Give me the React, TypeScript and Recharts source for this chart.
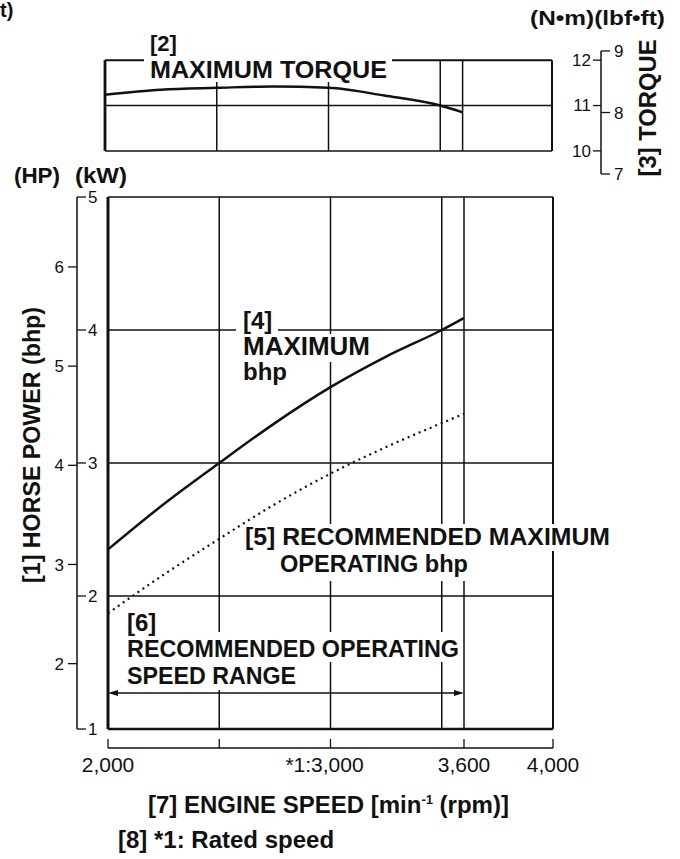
import React from 'react'
import { LineChart, Line, XAxis, YAxis, ReferenceLine } from 'recharts'

// engine speed samples (rpm) and curve values
const speedRpm = [2000, 2250, 2500, 2750, 3000, 3250, 3500, 3600]
const maxTorqueNm = [11.24, 11.35, 11.39, 11.42, 11.39, 11.22, 11.0, 10.85]
const maxBhpKw = [2.35, 2.69, 3.0, 3.3, 3.57, 3.8, 4.0, 4.09]
const recBhpKw = [1.87, 2.16, 2.43, 2.69, 2.92, 3.12, 3.3, 3.37]

const rpmTicks = [2000, 2500, 3000, 3600, 4000]
const rpmTickLabels = ['2,000', '', '*1:3,000', '3,600', '4,000']
const gridRpm = [2500, 3000, 3500, 3600]
const kwTicks = [1, 2, 3, 4, 5]
const kwGrid = [2, 3, 4, 5]
const hpTicks = [2, 3, 4, 5, 6]
const nmTicks = [10, 11, 12]
const nmGrid = [10, 11, 12]
const lbfTicks = [7, 8, 9]
const rangeRpm = [2000, 3600]
const rangeKw = 1.27

const KW_PER_HP = 0.7457
const NM_PER_LBF = 1.3558

const torqueData = speedRpm.map((r, i) => ({ rpm: r, nm: maxTorqueNm[i] }))
const powerData = speedRpm.map((r, i) => ({ rpm: r, max: maxBhpKw[i], rec: recBhpKw[i] }))

const ink = '#111'
const font = 'Liberation Sans, Arial, Helvetica, sans-serif'

// N·m ticks sit left of the shared torque scale line
const NmTick = (props: any) => {
  const { x, y, payload } = props
  return (
    <g>
      <line x1={x + 41} x2={x + 49} y1={y} y2={y} stroke={ink} strokeWidth={1.3} />
      <text x={x + 39} y={y} dy="0.35em" textAnchor="end" fontSize={17} fill={ink}>{payload.value}</text>
    </g>
  )
}

// kW ticks sit right of the shared power scale line
const KwTick = (props: any) => {
  const { x, y, payload } = props
  return (
    <g>
      <line x1={x - 31} x2={x - 22} y1={y} y2={y} stroke={ink} strokeWidth={1.3} />
      <text x={x - 20} y={y} dy="0.35em" textAnchor="start" fontSize={17} fill={ink}>{payload.value}</text>
    </g>
  )
}

const RpmTick = (props: any) => {
  const { x, y, payload } = props
  const label = rpmTickLabels[rpmTicks.indexOf(payload.value)]
  return (
    <g>
      <line x1={x} x2={x} y1={y} y2={y - 9} stroke={ink} strokeWidth={1.3} />
      <text x={payload.value === 3000 ? x - 6 : x} y={y + 24} textAnchor="middle" fontSize={21} fill={ink}>{label}</text>
    </g>
  )
}

const RangeArrow = (p: any) => {
  const { x1, y1, x2, y2 } = p
  return (
    <g>
      <line x1={x1 + 5} y1={y1} x2={x2 - 5} y2={y2} stroke={ink} strokeWidth={1.5} />
      <polygon points={`${x1},${y1} ${x1 + 10},${y1 - 3} ${x1 + 10},${y1 + 3}`} fill={ink} />
      <polygon points={`${x2},${y2} ${x2 - 10},${y2 - 3} ${x2 - 10},${y2 + 3}`} fill={ink} />
    </g>
  )
}

const T = ({ x, y, size = 24, w, children, ...rest }: any) => (
  <text x={x} y={y} fontSize={size} fontWeight="bold" fill={ink} fontFamily={font}
    textLength={w} lengthAdjust={w ? 'spacingAndGlyphs' : undefined} {...rest}>{children}</text>
)

const App = () => {
  return (
    <div style={{ position: 'absolute', left: 0, top: 0, width: 680, height: 859, background: '#fff', fontFamily: font }}>
      {/* torque box */}
      <div style={{ position: 'absolute', left: 0, top: 0 }}>
        <LineChart width={680} height={200} data={torqueData} margin={{ top: 51, right: 39, bottom: 26, left: 105 }}>
          <XAxis dataKey="rpm" type="number" domain={[2000, 4000]} hide />
          <YAxis yAxisId="t1" orientation="right" type="number" width={49}
            domain={[7 * NM_PER_LBF, 9 * NM_PER_LBF]} ticks={nmTicks} allowDataOverflow
            axisLine={false} tickLine={false} tickSize={0} tickMargin={0} tick={NmTick} />
          <YAxis yAxisId="t2" orientation="right" type="number" width={40}
            domain={[7, 9]} ticks={lbfTicks} allowDataOverflow
            axisLine={{ stroke: ink, strokeWidth: 1.5 }} tickLine={{ stroke: ink, strokeWidth: 1.3 }}
            tickSize={9} tickMargin={4} tick={{ fill: ink, fontSize: 17 }} />
          {nmGrid.map(v => (
            <ReferenceLine key={'h' + v} yAxisId="t1" segment={[{ x: 2000, y: v }, { x: 4000, y: v }]}
              stroke={ink} strokeWidth={v === 12 ? 2 : 1.5} />
          ))}
          {[2000, ...gridRpm, 4000].map(v => (
            <ReferenceLine key={'v' + v} yAxisId="t1" segment={[{ x: v, y: 10 }, { x: v, y: 12 }]}
              stroke={ink} strokeWidth={v === 2000 ? 2.8 : v === 4000 ? 2 : 1.5} />
          ))}
          <Line yAxisId="t1" type="monotone" dataKey="nm" stroke={ink} strokeWidth={2.5} dot={false} isAnimationActive={false} />
        </LineChart>
      </div>

      {/* power chart */}
      <div style={{ position: 'absolute', left: 0, top: 0 }}>
        <LineChart width={680} height={859} data={powerData} margin={{ top: 197, right: 127, bottom: 71, left: 37 }}>
          <XAxis xAxisId="x1" dataKey="rpm" type="number" domain={[2000, 4000]} height={19}
            tick={false} axisLine={false} tickLine={false} />
          <XAxis xAxisId="x2" dataKey="rpm" type="number" domain={[2000, 4000]} height={40}
            ticks={rpmTicks} tickSize={0} tickMargin={0} tick={RpmTick}
            axisLine={{ stroke: ink, strokeWidth: 1.5 }} tickLine={false} />
          <YAxis yAxisId="p1" type="number" width={31} domain={[1, 5]} ticks={kwTicks} allowDataOverflow
            axisLine={false} tickLine={false} tickSize={0} tickMargin={0} tick={KwTick} />
          <YAxis yAxisId="p2" type="number" width={40} domain={[1 / KW_PER_HP, 5 / KW_PER_HP]} ticks={hpTicks}
            allowDataOverflow
            axisLine={{ stroke: ink, strokeWidth: 1.5 }} tickLine={{ stroke: ink, strokeWidth: 1.3 }}
            tickSize={9} tickMargin={4} tick={{ fill: ink, fontSize: 17 }} />
          {kwGrid.map(v => (
            <ReferenceLine key={'h' + v} xAxisId="x2" yAxisId="p1" y={v} stroke={ink} strokeWidth={1.5} />
          ))}
          <ReferenceLine xAxisId="x2" yAxisId="p1" y={1} stroke={ink} strokeWidth={2.6} />
          {gridRpm.map(v => (
            <ReferenceLine key={'v' + v} xAxisId="x2" yAxisId="p1" x={v} stroke={ink} strokeWidth={1.5} />
          ))}
          <ReferenceLine xAxisId="x2" yAxisId="p1" x={2000} stroke={ink} strokeWidth={3} />
          <ReferenceLine xAxisId="x2" yAxisId="p1" x={4000} stroke={ink} strokeWidth={2} />
          <ReferenceLine xAxisId="x2" yAxisId="p1"
            segment={[{ x: rangeRpm[0], y: rangeKw }, { x: rangeRpm[1], y: rangeKw }]} shape={RangeArrow} />
          <Line xAxisId="x2" yAxisId="p1" type="monotone" dataKey="max" stroke={ink} strokeWidth={2.5} dot={false} isAnimationActive={false} />
          <Line xAxisId="x2" yAxisId="p1" type="monotone" dataKey="rec" stroke={ink} strokeWidth={2.2}
            strokeDasharray="2 4" dot={false} isAnimationActive={false} />
        </LineChart>
      </div>

      {/* labels */}
      <svg width={680} height={859} style={{ position: 'absolute', left: 0, top: 0, pointerEvents: 'none' }}>
        <rect x={144} y={52} width={248} height={30} fill="#fff" />
        <rect x={236} y={312} width={42} height={21} fill="#fff" />
        <rect x={240} y={334} width={133} height={28} fill="#fff" />
        <rect x={248} y={524} width={366} height={27} fill="#fff" />
        <rect x={278} y={551} width={192} height={30} fill="#fff" />
        <rect x={124} y={632} width={336} height={30} fill="#fff" />
        <rect x={124} y={662} width={180} height={28} fill="#fff" />

        <T x={0} y={17} size={20}>t)</T>
        <T x={150} y={51} size={22}>[2]</T>
        <T x={150} y={78} size={24} w={237}>MAXIMUM TORQUE</T>
        <T x={530} y={25} size={20} w={135}>(N•m)(lbf•ft)</T>
        <T x={656} y={108} size={23} w={137} textAnchor="middle" transform="rotate(-90 656 108)">[3] TORQUE</T>
        <T x={14} y={183} size={22} w={46}>(HP)</T>
        <T x={75} y={183} size={22} w={52}>(kW)</T>
        <T x={40} y={445} size={23} w={276} textAnchor="middle" transform="rotate(-90 40 445)">[1] HORSE POWER (bhp)</T>
        <T x={243} y={329} size={24}>[4]</T>
        <T x={243} y={355} size={25} w={127}>MAXIMUM</T>
        <T x={243} y={380} size={24}>bhp</T>
        <T x={245} y={545} size={24} w={365}>[5] RECOMMENDED MAXIMUM</T>
        <T x={280} y={572} size={24} w={188}>OPERATING bhp</T>
        <T x={127} y={631} size={24}>[6]</T>
        <T x={127} y={657} size={24} w={332}>RECOMMENDED OPERATING</T>
        <T x={127} y={684} size={24} w={169}>SPEED RANGE</T>
        <T x={148} y={813} size={24}>[7] ENGINE SPEED [min<tspan fontSize={13} dy={-9}>-1</tspan><tspan dy={9}> (rpm)]</tspan></T>
        <T x={118} y={848} size={24}>[8] *1: Rated speed</T>
      </svg>
    </div>
  )
}

export default App
